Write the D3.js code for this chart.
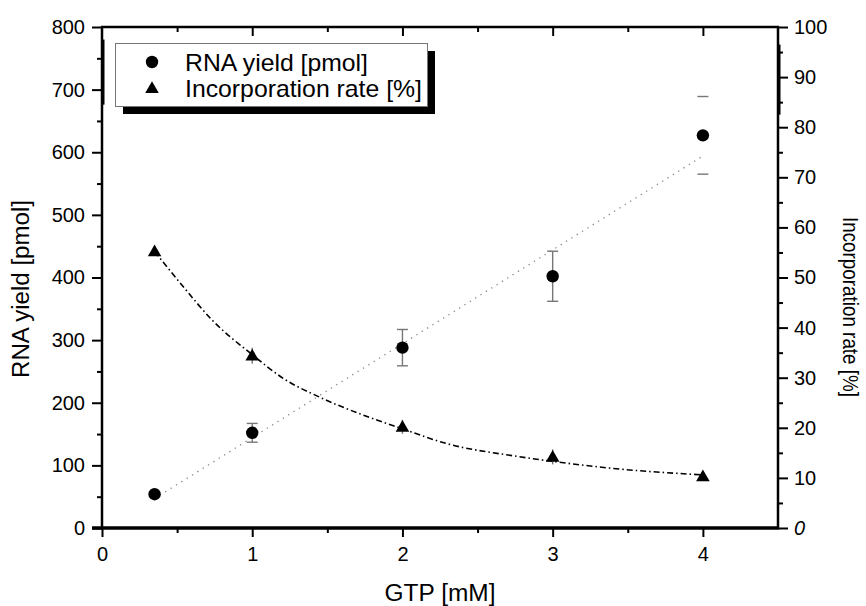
<!DOCTYPE html>
<html>
<head>
<meta charset="utf-8">
<script src="https://cdn.jsdelivr.net/npm/d3@7"></script>
<style>
  body { margin: 0; background: #fff; }
  svg text { font-family: "Liberation Sans", Arial, sans-serif; fill: #000; }
</style>
</head>
<body>
<div id="chart"></div>
<script>
//-- Data --//
var gtp = [0.35, 1, 2, 3, 4];                 // GTP [mM]
var rnaYield = [54, 152, 288, 402, 627];      // pmol
var rnaErr = [4, 15, 29, 40, 62];
var rnaStem = [true, true, true, true, false];
var incRate = [55.2, 34.4, 20.2, 14.2, 10.3]; // %
var incErr = [0.5, 1.6, 1.4, 1.5, 0.4];

// linear fit for the yield (end points)
var yieldFit = [[0.35, 47], [4, 594]];
// decay fit for the incorporation rate
var rateFit = [[0.35, 55.2], [0.54, 48.2], [0.73, 41.6], [1, 34.6], [1.21, 29.8],
               [1.45, 26.1], [1.76, 22.3], [2, 19.8], [2.3, 16.8], [2.74, 14.4],
               [3, 13.3], [3.4, 11.9], [4, 10.6]];

var xTicks = [0, 1, 2, 3, 4],
    xMinor = [0.5, 1.5, 2.5, 3.5],
    yLTicks = [0, 100, 200, 300, 400, 500, 600, 700, 800],
    yLMinor = [50, 150, 250, 350, 450, 550, 650, 750],
    yRTicks = [0, 10, 20, 30, 40, 50, 60, 70, 80, 90, 100],
    yRMinor = [5, 15, 25, 35, 45, 55, 65, 75, 85, 95];

var legendItems = ["RNA yield [pmol]", "Incorporation rate [%]"];

//-- SVG --//
var width = 866, height = 606;
var svg = d3.select("#chart").append("svg")
  .attr("width", width)
  .attr("height", height);

//-- Scales --//
var xScale = d3.scaleLinear().domain([0, 4.5]).range([102, 778]),
    yLeft = d3.scaleLinear().domain([0, 800]).range([528, 27]),
    yRight = d3.scaleLinear().domain([0, 100]).range([528, 27]);

function styleAxis(g) {
  g.select(".domain").remove();
  g.selectAll(".tick line").attr("stroke", "#000").attr("stroke-width", 2);
  g.selectAll(".tick text").style("font-size", "20px").attr("fill", "#000");
}

// left axis
svg.append("g").attr("transform", "translate(" + xScale(0) + ",0)")
  .call(d3.axisLeft(yLeft).tickValues(yLTicks).tickSize(10).tickPadding(7).tickFormat(d3.format("d")))
  .call(styleAxis);
svg.append("g").attr("transform", "translate(" + xScale(0) + ",0)")
  .call(d3.axisLeft(yLeft).tickValues(yLMinor).tickSize(5).tickFormat(""))
  .call(styleAxis);

// right axis
var rightAxis = svg.append("g").attr("transform", "translate(" + xScale(4.5) + ",0)")
  .call(d3.axisRight(yRight).tickValues(yRTicks).tickSize(10).tickPadding(6).tickFormat(d3.format("d")))
  .call(styleAxis);
rightAxis.selectAll(".tick text").filter(function(d) { return d === 0; }).style("font-style", "italic");
svg.append("g").attr("transform", "translate(" + xScale(4.5) + ",0)")
  .call(d3.axisRight(yRight).tickValues(yRMinor).tickSize(5).tickFormat(""))
  .call(styleAxis);

// bottom axis
svg.append("g").attr("transform", "translate(0," + yLeft(0) + ")")
  .call(d3.axisBottom(xScale).tickValues(xTicks).tickSize(9).tickPadding(10).tickFormat(d3.format("d")))
  .call(styleAxis);
svg.append("g").attr("transform", "translate(0," + yLeft(0) + ")")
  .call(d3.axisBottom(xScale).tickValues(xMinor).tickSize(5).tickFormat(""))
  .call(styleAxis);

// top axis (ticks pointing in)
svg.append("g").attr("transform", "translate(0," + yLeft(800) + ")")
  .call(d3.axisBottom(xScale).tickValues(xTicks.slice(1)).tickSize(9).tickFormat(""))
  .call(styleAxis);
svg.append("g").attr("transform", "translate(0," + yLeft(800) + ")")
  .call(d3.axisBottom(xScale).tickValues(xMinor).tickSize(5).tickFormat(""))
  .call(styleAxis);

// frame lines
svg.append("line").attr("x1", xScale(0)).attr("x2", xScale(0))
  .attr("y1", yLeft(800) - 1).attr("y2", yLeft(0)).attr("stroke", "#000").attr("stroke-width", 2.5);
svg.append("line").attr("x1", xScale(4.5)).attr("x2", xScale(4.5))
  .attr("y1", yLeft(800) - 1).attr("y2", yLeft(0)).attr("stroke", "#000").attr("stroke-width", 2.5);
svg.append("line").attr("x1", xScale(0) - 1).attr("x2", xScale(4.5) + 1)
  .attr("y1", yLeft(800)).attr("y2", yLeft(800)).attr("stroke", "#000").attr("stroke-width", 2.5);
svg.append("line").attr("x1", xScale(0) - 10).attr("x2", xScale(4.5) + 1)
  .attr("y1", yLeft(0)).attr("y2", yLeft(0)).attr("stroke", "#000").attr("stroke-width", 3.5);
// thicker bits on the frame near the top (as in the export)
svg.append("line").attr("x1", xScale(0) + 1.5).attr("x2", xScale(0) + 1.5)
  .attr("y1", yLeft(780)).attr("y2", yLeft(676)).attr("stroke", "#000").attr("stroke-width", 2);
svg.append("line").attr("x1", xScale(4.5) + 1.5).attr("x2", xScale(4.5) + 1.5)
  .attr("y1", yRight(96.5)).attr("y2", yRight(82.5)).attr("stroke", "#000").attr("stroke-width", 2);

//-- Fit lines --//
var lineL = d3.line().x(function(d) { return xScale(d[0]); }).y(function(d) { return yLeft(d[1]); });
var lineR = d3.line().curve(d3.curveMonotoneX)
  .x(function(d) { return xScale(d[0]); }).y(function(d) { return yRight(d[1]); });

svg.append("path").datum(yieldFit).attr("d", lineL)
  .attr("fill", "none").attr("stroke", "#888").attr("stroke-width", 1.3)
  .attr("stroke-dasharray", "1.3,5");
svg.append("path").datum(rateFit).attr("d", lineR)
  .attr("fill", "none").attr("stroke", "#000").attr("stroke-width", 1.6)
  .attr("stroke-dasharray", "6,3,1.5,3");

//-- Error bars --//
var errG = svg.append("g").attr("stroke", "#777").attr("stroke-width", 1.4);
gtp.forEach(function(g, i) {
  var cx = xScale(g), top = yLeft(rnaYield[i] + rnaErr[i]), bot = yLeft(rnaYield[i] - rnaErr[i]);
  if (rnaStem[i]) errG.append("line").attr("x1", cx).attr("x2", cx).attr("y1", top).attr("y2", bot);
  if (i > 0) {
    errG.append("line").attr("x1", cx - 5.5).attr("x2", cx + 5.5).attr("y1", top).attr("y2", top);
    errG.append("line").attr("x1", cx - 5.5).attr("x2", cx + 5.5).attr("y1", bot).attr("y2", bot);
  }
  errG.append("line").attr("x1", cx).attr("x2", cx)
    .attr("y1", yRight(incRate[i] + incErr[i])).attr("y2", yRight(incRate[i] - incErr[i]));
});

//-- Markers --//
var tri = d3.symbol().type(d3.symbolTriangle).size(80);

svg.append("g").selectAll("circle")
  .data(gtp).enter().append("circle")
  .attr("cx", function(d) { return xScale(d); })
  .attr("cy", function(d, i) { return yLeft(rnaYield[i]); })
  .attr("r", 6.2)
  .attr("fill", "#000");

svg.append("g").selectAll("path")
  .data(gtp).enter().append("path")
  .attr("d", tri)
  .attr("transform", function(d, i) { return "translate(" + xScale(d) + "," + (yRight(incRate[i]) + 1) + ")"; })
  .attr("fill", "#000");

//-- Axis titles --//
svg.append("text")
  .attr("x", 440).attr("y", 601)
  .attr("text-anchor", "middle")
  .style("font-size", "23px")
  .attr("textLength", 111).attr("lengthAdjust", "spacingAndGlyphs")
  .text("GTP [mM]");

svg.append("text")
  .attr("transform", "translate(29,289) rotate(-90)")
  .attr("text-anchor", "middle")
  .style("font-size", "23px")
  .attr("textLength", 178).attr("lengthAdjust", "spacingAndGlyphs")
  .text("RNA yield [pmol]");

svg.append("text")
  .attr("transform", "translate(843,307) rotate(90)")
  .attr("text-anchor", "middle")
  .style("font-size", "22px")
  .attr("textLength", 180).attr("lengthAdjust", "spacingAndGlyphs")
  .text("Incorporation rate [%]");

//-- Legend --//
var legend = svg.append("g");
legend.append("rect")
  .attr("x", 123).attr("y", 51).attr("width", 312).attr("height", 63)
  .attr("fill", "#000");
legend.append("rect")
  .attr("x", 115.5).attr("y", 43.5).attr("width", 312).attr("height", 63)
  .attr("fill", "#fff").attr("stroke", "#777").attr("stroke-width", 1);

legend.append("circle").attr("cx", 152).attr("cy", 62).attr("r", 6.2).attr("fill", "#000");
legend.append("path").attr("d", tri).attr("transform", "translate(152,89)").attr("fill", "#000");

legend.selectAll("text.leg")
  .data(legendItems).enter().append("text")
  .attr("class", "leg")
  .attr("x", 185)
  .attr("y", function(d, i) { return 71 + i * 26; })
  .style("font-size", "24px")
  .attr("textLength", function(d, i) { return i === 0 ? 183 : 237; })
  .attr("lengthAdjust", "spacingAndGlyphs")
  .text(function(d) { return d; });
</script>
</body>
</html>
